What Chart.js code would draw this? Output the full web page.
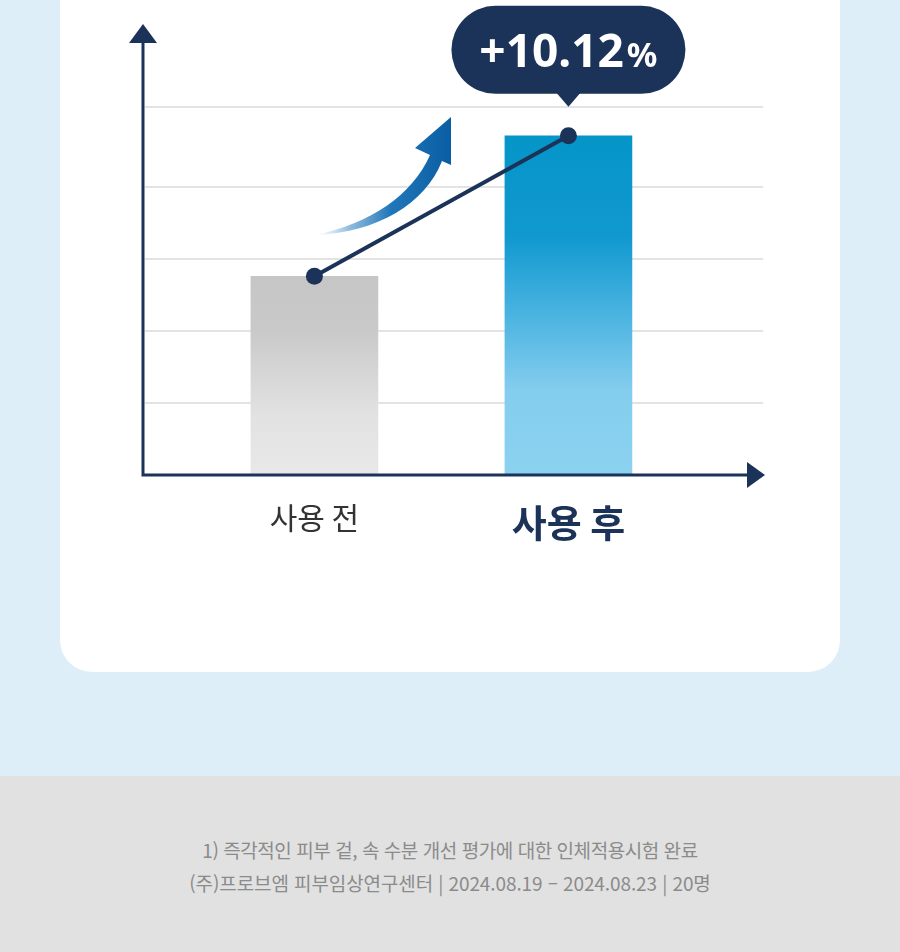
<!DOCTYPE html>
<html lang="ko">
<head>
<meta charset="utf-8">
<title>사용 전 / 사용 후</title>
<script src="https://cdn.jsdelivr.net/npm/chart.js@4.4.1/dist/chart.umd.min.js"></script>
<style>
  html, body { margin: 0; padding: 0; }
  body {
    width: 900px; height: 952px; position: relative; overflow: hidden;
    background: #ddeef9;
    font-family: "Noto Sans CJK KR", "Noto Sans", sans-serif;
  }
  .card {
    position: absolute; left: 60px; top: -40px; width: 780px; height: 712px;
    background: #fff; border-radius: 32px;
  }
  .chart-box { position: absolute; left: 0; top: 0; width: 900px; height: 560px; }
  .footer {
    position: absolute; left: 0; top: 776px; width: 900px; height: 176px;
    background: #e1e1e1; color: #8b8b8b; text-align: center;
    font-size: 19px; letter-spacing: -0.45px; line-height: 33px;
  }
  .footer p { margin: 0; }
  .footer .first { padding-top: 57px; }
  .footer .second { letter-spacing: -0.1px; }
</style>
</head>
<body>
<div class="card"></div>
<div class="chart-box"><canvas id="chart" width="900" height="560"></canvas></div>
<div class="footer">
  <p class="first">1) 즉각적인 피부 겉, 속 수분 개선 평가에 대한 인체적용시험 완료</p>
  <p class="second">(주)프로브엠 피부임상연구센터 | 2024.08.19 – 2024.08.23 | 20명</p>
</div>

<script>
// data (arbitrary units, y axis has no printed ticks)
const labels = ['사용 전', '사용 후'];
const barValues = [2.76, 4.71];
const lineValues = [2.76, 4.71];
const gridValues = [1, 2, 3, 4, 5.115];
const changeText = '+10.12';
const changeUnit = '%';

const NAVY = '#1b3358';

// gradient fill for each bar, built from the y scale
function barFill(context) {
  const chart = context.chart;
  const area = chart.chartArea;
  if (!area) return '#ccc';
  const y = chart.scales.y;
  const top = y.getPixelForValue(barValues[context.dataIndex]);
  const bottom = y.getPixelForValue(0);
  const g = chart.ctx.createLinearGradient(0, top, 0, bottom);
  if (context.dataIndex === 0) {
    g.addColorStop(0, '#c6c6c6');
    g.addColorStop(0.27, '#c9c9c9');
    g.addColorStop(0.7, '#e2e2e2');
    g.addColorStop(1, '#e8e8e8');
  } else {
    g.addColorStop(0, '#0595c9');
    g.addColorStop(0.3, '#1199cf');
    g.addColorStop(0.55, '#50b6e2');
    g.addColorStop(0.75, '#84cdee');
    g.addColorStop(1, '#8bd2ef');
  }
  return g;
}

// axis arrows, swoosh arrow and the speech bubble
const decorations = {
  id: 'decorations',
  beforeDatasetsDraw(chart) {
    const ctx = chart.ctx;
    // curved rising arrow
    ctx.save();
    const g = ctx.createLinearGradient(316, 0, 451, 0);
    g.addColorStop(0, 'rgba(140,190,225,0)');
    g.addColorStop(0.25, 'rgba(80,150,205,0.65)');
    g.addColorStop(0.55, '#2077b8');
    g.addColorStop(1, '#0a5ea4');
    ctx.fillStyle = g;
    ctx.beginPath();
    ctx.moveTo(316, 235);
    ctx.bezierCurveTo(370, 223, 412, 196, 430, 155);
    ctx.lineTo(415, 148);
    ctx.lineTo(451, 117);
    ctx.lineTo(451, 165);
    ctx.lineTo(442, 161);
    ctx.bezierCurveTo(425, 204, 378, 232, 316, 235);
    ctx.closePath();
    ctx.fill();
    ctx.restore();
  },
  afterDatasetsDraw(chart) {
    const ctx = chart.ctx;
    const area = chart.chartArea;
    const x0 = area.left - 2;
    const y0 = chart.scales.y.getPixelForValue(0);
    ctx.save();
    ctx.strokeStyle = NAVY;
    ctx.fillStyle = NAVY;
    ctx.lineWidth = 3;
    ctx.beginPath();
    ctx.moveTo(x0, y0 + 1.5);
    ctx.lineTo(x0, 40);
    ctx.moveTo(x0 - 1.5, y0);
    ctx.lineTo(750, y0);
    ctx.stroke();
    ctx.beginPath();
    ctx.moveTo(x0, 24);
    ctx.lineTo(x0 + 14, 43);
    ctx.lineTo(x0 - 14, 43);
    ctx.closePath();
    ctx.fill();
    ctx.beginPath();
    ctx.moveTo(765, y0);
    ctx.lineTo(747, y0 - 13);
    ctx.lineTo(747, y0 + 13);
    ctx.closePath();
    ctx.fill();

    // bubble above the "after" point
    const pt = chart.getDatasetMeta(0).data[1];
    const cx = pt.x;
    const tip = pt.y - 29;
    const bottom = tip - 13;
    const h = 88, w = 234;
    const left = cx - w / 2, top = bottom - h;
    ctx.beginPath();
    ctx.roundRect(left, top, w, h, h / 2);
    ctx.fill();
    ctx.beginPath();
    ctx.moveTo(cx - 12, bottom - 1);
    ctx.lineTo(cx, tip);
    ctx.lineTo(cx + 12, bottom - 1);
    ctx.closePath();
    ctx.fill();

    ctx.fillStyle = '#fff';
    ctx.textBaseline = 'alphabetic';
    const bigFont = 'bold 46px "Noto Sans", sans-serif';
    const smallFont = 'bold 34px "Noto Sans", sans-serif';
    ctx.font = bigFont;
    const w1 = ctx.measureText(changeText).width;
    ctx.font = smallFont;
    const w2 = ctx.measureText(changeUnit).width;
    const startX = cx - (w1 + w2 + 3) / 2;
    const base = top + h / 2 + 17;
    ctx.font = bigFont;
    ctx.textAlign = 'left';
    ctx.fillText(changeText, startX, base);
    ctx.font = smallFont;
    ctx.fillText(changeUnit, startX + w1 + 3, base);
    ctx.restore();
  }
};

const ctx = document.getElementById('chart').getContext('2d');

const config = {
  type: 'bar',
  data: {
    datasets: [
      {
        type: 'line',
        label: 'trend',
        data: labels.map((l, i) => ({ x: i, y: lineValues[i] })),
        borderColor: NAVY,
        borderWidth: 4,
        pointRadius: 8.5,
        pointBackgroundColor: NAVY,
        pointBorderWidth: 0,
        order: 0
      },
      {
        label: 'value',
        data: labels.map((l, i) => ({ x: i, y: barValues[i] })),
        backgroundColor: barFill,
        barThickness: 127,
        borderWidth: 0,
        order: 1
      }
    ]
  },
  options: {
    responsive: false,
    animation: false,
    layout: { padding: { left: 145, right: 137, top: 106.7, bottom: 0 } },
    plugins: { legend: { display: false }, tooltip: { enabled: false } },
    scales: {
      x: {
        type: 'linear',
        offset: false,
        min: -0.667,
        max: 1.766,
        grid: { display: false },
        border: { display: false },
        afterBuildTicks: s => { s.ticks = labels.map((l, i) => ({ value: i })); },
        afterFit: s => { s.height = 85; },
        ticks: {
          padding: 17,
          autoSkip: false,
          maxRotation: 0,
          callback: v => labels[v],
          font: c => c.index === 1
            ? { size: 38, weight: 'bold', family: '"Noto Sans CJK KR", sans-serif' }
            : { size: 30, weight: 'normal', family: '"Noto Sans CJK KR", sans-serif' },
          color: c => c.index === 1 ? NAVY : '#333333'
        }
      },
      y: {
        min: 0,
        max: 5.115,
        border: { display: false },
        grid: { color: '#e3e3e3', lineWidth: 2, drawTicks: false },
        afterBuildTicks: s => { s.ticks = gridValues.map(v => ({ value: v })); },
        afterFit: s => { s.width = 0; },
        ticks: { display: false }
      }
    }
  },
  plugins: [decorations]
};

const chart = new Chart(ctx, config);
</script>
</body>
</html>
